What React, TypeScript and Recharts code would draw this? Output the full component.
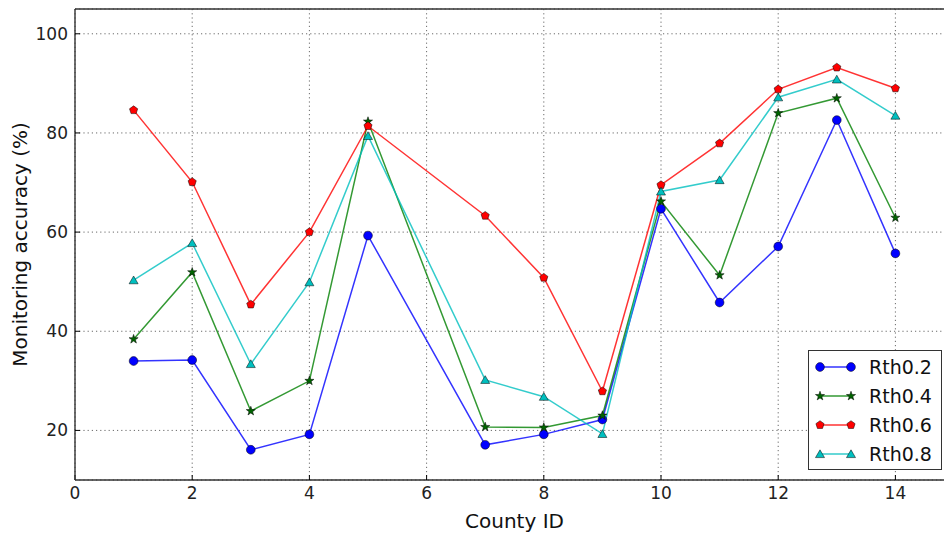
import React from "react";
import { LineChart, Line, XAxis, YAxis, CartesianGrid, Legend, ReferenceLine } from "recharts";

// values (County 6 is missing in the original)
const countyIds = [1, 2, 3, 4, 5, 7, 8, 9, 10, 11, 12, 13, 14];
const rth02 = [34.0, 34.2, 16.1, 19.2, 59.3, 17.1, 19.2, 22.2, 64.7, 45.8, 57.1, 82.6, 55.7];
const rth04 = [38.4, 51.9, 23.9, 30.0, 82.3, 20.7, 20.6, 23.0, 66.2, 51.3, 84.0, 87.0, 62.9];
const rth06 = [84.6, 70.1, 45.4, 60.0, 81.4, 63.3, 50.8, 27.9, 69.5, 77.9, 88.8, 93.2, 89.0];
const rth08 = [50.3, 57.8, 33.4, 49.9, 79.4, 30.2, 26.8, 19.3, 68.2, 70.5, 87.2, 90.8, 83.5];
const xTicks = [0, 2, 4, 6, 8, 10, 12, 14];
const yTicks = [20, 40, 60, 80, 100];

const data = countyIds.map((id, i) => ({
  id,
  r02: rth02[i],
  r04: rth04[i],
  r06: rth06[i],
  r08: rth08[i],
}));

const series = [
  { key: "r02", name: "Rth0.2", color: "#0000ff", shape: "circle" },
  { key: "r04", name: "Rth0.4", color: "#008000", shape: "star" },
  { key: "r06", name: "Rth0.6", color: "#ff0000", shape: "pentagon" },
  { key: "r08", name: "Rth0.8", color: "#00bfbf", shape: "triangle" },
];

const FONT = "'DejaVu Sans', sans-serif";

function polyPoints(cx: number, cy: number, n: number, rOuter: number, rInner?: number) {
  const pts: string[] = [];
  const count = rInner ? n * 2 : n;
  for (let k = 0; k < count; k++) {
    const r = rInner && k % 2 === 1 ? rInner : rOuter;
    const a = -Math.PI / 2 + (k * 2 * Math.PI) / count;
    pts.push(`${cx + r * Math.cos(a)},${cy + r * Math.sin(a)}`);
  }
  return pts.join(" ");
}

function Marker({ shape, cx, cy, fill }: { shape: string; cx: number; cy: number; fill: string }) {
  const edge = { stroke: "#000", strokeWidth: 0.5, fill };
  if (shape === "circle") return <circle cx={cx} cy={cy} r={4.4} {...edge} />;
  if (shape === "star") return <polygon points={polyPoints(cx, cy, 5, 4.8, 1.9)} {...edge} fill="#006400" />;
  if (shape === "pentagon") return <polygon points={polyPoints(cx, cy, 5, 4.3)} {...edge} />;
  return <polygon points={polyPoints(cx, cy + 1, 3, 5.2)} {...edge} />;
}

function LegendBox() {
  return (
    <div
      style={{
        width: 134,
        height: 120,
        border: "1.3px solid #333",
        background: "#fff",
        boxSizing: "border-box",
        paddingTop: 2,
      }}
    >
      {series.map((s) => (
        <div key={s.key} style={{ display: "flex", alignItems: "center", height: 28.8 }}>
          <svg width={60} height={20} style={{ flex: "none" }}>
            <line x1={11} y1={10} x2={42} y2={10} stroke={s.color} strokeOpacity={0.8} strokeWidth={1.5} />
            <Marker shape={s.shape} cx={11} cy={10} fill={s.color} />
            <Marker shape={s.shape} cx={42} cy={10} fill={s.color} />
          </svg>
          <span style={{ fontFamily: FONT, fontSize: 19, color: "#111" }}>{s.name}</span>
        </div>
      ))}
    </div>
  );
}

export default function App() {
  const tickStyle = { fontFamily: FONT, fontSize: 17, fill: "#222" };
  return (
    <div style={{ position: "absolute", left: 0, top: 0, width: 944, height: 533, overflow: "hidden", background: "#fff" }}>
      <LineChart width={960} height={533} data={data} margin={{ top: 9, right: 6, bottom: 0, left: 0 }}>
        <CartesianGrid stroke="#444" strokeDasharray="1.2 3" strokeWidth={0.8} />
        <XAxis
          dataKey="id"
          type="number"
          domain={[0, 15]}
          ticks={xTicks}
          height={53}
          tickSize={-5}
          tickMargin={12}
          tickLine={{ stroke: "#000" }}
          axisLine={{ stroke: "#333", strokeWidth: 1.4 }}
          tick={tickStyle}
          label={{
            content: ({ viewBox }: any) => (
              <text x={viewBox.x + viewBox.width / 2} y={viewBox.y + 48} textAnchor="middle" fontFamily={FONT} fontSize={20} fill="#111">
                County ID
              </text>
            ),
          }}
        />
        <XAxis
          xAxisId="top"
          orientation="top"
          dataKey="id"
          type="number"
          domain={[0, 15]}
          ticks={xTicks}
          height={0}
          tickSize={-5}
          tickLine={{ stroke: "#000" }}
          axisLine={false}
          tickFormatter={() => ""}
        />
        <YAxis
          type="number"
          domain={[10, 105]}
          ticks={yTicks}
          width={75}
          tickSize={-5}
          tickMargin={12}
          tickLine={{ stroke: "#000" }}
          axisLine={{ stroke: "#333", strokeWidth: 1.4 }}
          tick={tickStyle}
          label={{
            content: ({ viewBox }: any) => {
              const x = 27;
              const y = viewBox.y + viewBox.height / 2;
              return (
                <text x={x} y={y} transform={`rotate(-90 ${x} ${y})`} textAnchor="middle" fontFamily={FONT} fontSize={20} fill="#111">
                  Monitoring accuracy (%)
                </text>
              );
            },
          }}
        />
        {/* top spine */}
        <ReferenceLine y={105} stroke="#333" strokeWidth={1.4} />
        {series.map((s) => (
          <Line
            key={s.key}
            dataKey={s.key}
            name={s.name}
            stroke={s.color}
            strokeOpacity={0.8}
            strokeWidth={1.5}
            isAnimationActive={false}
            dot={(p: any) => <Marker key={`${s.key}-${p.index}`} shape={s.shape} cx={p.cx} cy={p.cy} fill={s.color} />}
            activeDot={false}
          />
        ))}
        <Legend
          layout="vertical"
          align="center"
          verticalAlign="middle"
          content={() => <LegendBox />}
          wrapperStyle={{ position: "absolute", left: 808, top: 350, width: 134, height: 120 }}
        />
      </LineChart>
    </div>
  );
}
